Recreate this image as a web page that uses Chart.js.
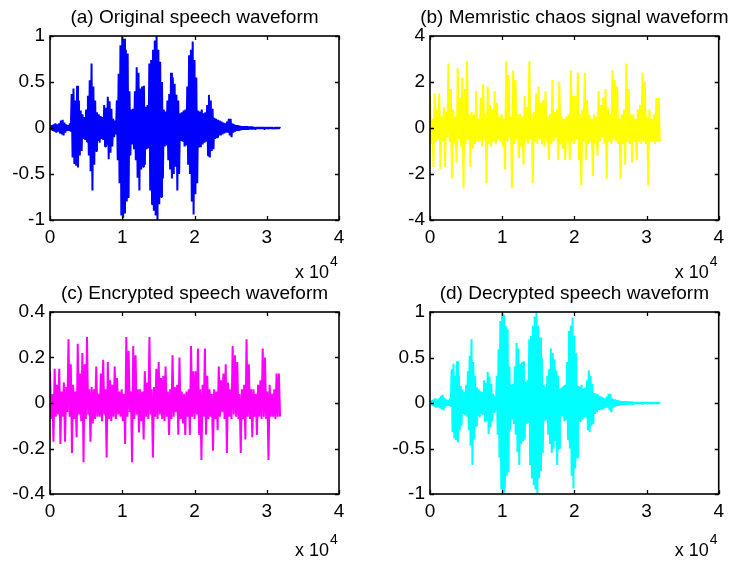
<!DOCTYPE html>
<html lang="en">
<head>
  <meta charset="UTF-8">
  <title>Speech encryption waveforms</title>
  <script src="https://cdn.jsdelivr.net/npm/chart.js"></script>
  <style>
    body {
      margin: 0;
      background: #fff;
      width: 730px;
      height: 561px;
      position: relative;
      overflow: hidden;
    }
    .panel { position: absolute; }
    .panel canvas { display: block; }
  </style>
</head>
<body>
  <div class="panel" style="left:0;top:0"><canvas id="panelA" width="365" height="280"></canvas></div>
  <div class="panel" style="left:365px;top:0"><canvas id="panelB" width="365" height="280"></canvas></div>
  <div class="panel" style="left:0;top:276px"><canvas id="panelC" width="365" height="285"></canvas></div>
  <div class="panel" style="left:365px;top:276px"><canvas id="panelD" width="365" height="285"></canvas></div>

  <script>
    // speech envelope, one upper/lower pair every 250 samples
    const speechStep = 250;
    const speechUpper = [
      0.02, 0.03, 0.04, 0.05, 0.04, 0.05, 0.08, 0.09, 0.06, 0.04,
      0.03, 0.05, 0.37, 0.43, 0.30, 0.46, 0.30, 0.19, 0.15, 0.12,
      0.20, 0.35, 0.52, 0.70, 0.45, 0.30, 0.17, 0.15, 0.13, 0.12,
      0.25, 0.22, 0.34, 0.29, 0.21, 0.10, 0.08, 0.30, 0.59, 0.90,
      0.99, 0.97, 0.85, 0.81, 0.40, 0.20, 0.21, 0.40, 0.66, 0.60,
      0.43, 0.45, 0.46, 0.23, 0.25, 0.70, 0.74, 0.85, 0.95, 1.00,
      0.85, 0.72, 0.50, 0.20, 0.18, 0.30, 0.37, 0.60, 0.55, 0.48,
      0.36, 0.30, 0.16, 0.17, 0.19, 0.20, 0.45, 0.79, 0.85, 0.94,
      0.74, 0.55, 0.19, 0.18, 0.20, 0.16, 0.17, 0.25, 0.36, 0.30,
      0.21, 0.11, 0.10, 0.09, 0.08, 0.07, 0.06, 0.05, 0.07, 0.10,
      0.10, 0.05, 0.04, 0.03, 0.03, 0.025, 0.02, 0.02, 0.02, 0.02,
      0.015, 0.015, 0.015, 0.01, 0.01, 0.01, 0.01, 0.01, 0.01, 0.01,
      0.01, 0.005, 0.005, 0.005, 0.005, 0.005, 0.005, 0.005
    ];
    const speechLower = [
      -0.02, -0.03, -0.04, -0.05, -0.04, -0.06, -0.07, -0.08, -0.05, -0.03,
      -0.03, -0.04, -0.32, -0.39, -0.41, -0.43, -0.30, -0.25, -0.12, -0.13,
      -0.15, -0.30, -0.47, -0.68, -0.40, -0.25, -0.14, -0.16, -0.12, -0.13,
      -0.20, -0.19, -0.34, -0.27, -0.20, -0.10, -0.07, -0.35, -0.60, -0.95,
      -0.98, -0.93, -0.80, -0.76, -0.30, -0.18, -0.23, -0.35, -0.54, -0.68,
      -0.45, -0.42, -0.40, -0.23, -0.22, -0.68, -0.83, -0.90, -0.95, -1.00,
      -0.83, -0.75, -0.55, -0.20, -0.19, -0.35, -0.45, -0.55, -0.50, -0.42,
      -0.68, -0.50, -0.14, -0.15, -0.20, -0.19, -0.40, -0.50, -0.80, -0.94,
      -0.72, -0.60, -0.20, -0.21, -0.18, -0.16, -0.15, -0.30, -0.32, -0.25,
      -0.23, -0.12, -0.10, -0.08, -0.08, -0.07, -0.06, -0.05, -0.05, -0.08,
      -0.10, -0.05, -0.04, -0.03, -0.03, -0.025, -0.02, -0.02, -0.02, -0.02,
      -0.015, -0.015, -0.015, -0.01, -0.01, -0.01, -0.01, -0.01, -0.01, -0.01,
      -0.01, -0.005, -0.005, -0.005, -0.005, -0.005, -0.005, -0.005
    ];

    // memristive chaos sequence, one value every 160 samples
    const chaosStep = 160;
    const chaosValues = [
      1.4, -0.7, 0.4, -1.7, 1.5, -0.6, 0.8, -0.5, 1.5, -1.8, 0.5, -0.6, 0.9, -1.7, 0.7, -0.4, 2.8, -0.6, 1.7, -2.2,
      0.8, -0.7, 0.5, -1.5, 2.6, -0.5, 1.3, -0.8, 2.2, -2.6, 1.7, -0.7, 2.9, -0.5, 0.6, -1.7, 0.7, -0.9, 0.6, -0.7,
      1.6, -0.6, 0.4, -0.6, 1.3, -0.8, 1.9, -0.5, 0.6, -2.4, 1.8, -0.7, 1.0, -0.8, 0.8, -0.6, 1.6, -0.7, 1.1, -0.5,
      0.5, -0.6, 0.6, -0.8, 0.4, -1.8, 2.9, -0.6, 2.3, -0.4, 0.5, -2.6, 2.5, -0.7, 2.1, -0.5, 0.6, -1.3, 0.6, -0.8,
      0.5, -1.6, 1.4, -0.6, 0.9, -0.7, 2.9, -0.5, 0.6, -2.4, 0.7, -0.6, 1.5, -0.7, 1.8, -0.5, 1.1, -0.7, 1.2, -0.8,
      1.6, -0.6, 0.5, -1.4, 0.6, -0.7, 2.1, -0.6,
      0.7, -0.4, 0.8, -1.4, 2.0, -0.7, 0.5, -0.9, 0.4, -1.4, 0.5, -0.6, 0.6, -1.4, 2.5, -0.6, 1.4, -0.7, 1.4, -0.5,
      2.4, -1.4, 0.6, -2.5, 0.8, -0.6, 2.4, -1.4, 1.2, -0.7, 0.6, -0.6, 0.4, -2.1, 0.6, -0.7, 0.5, -1.2, 1.6, -0.6,
      1.0, -0.4, 1.3, -0.7, 1.7, -2.2, 0.9, -0.6, 0.6, -0.7, 2.5, -0.5, 2.1, -0.6, 1.8, -0.7, 0.4, -2.2, 0.6, -0.7,
      0.8, -1.6, 2.8, -0.6, 1.7, -0.7, 0.6, -1.5, 0.6, -0.6, 0.4, -1.4, 0.8, -0.6, 1.0, -0.7, 2.4, -0.6, 2.0, -0.7,
      0.5, -2.5, 0.8, -0.6, 0.4, -0.6, 0.6, -0.7, 1.3, -0.6, 1.3, -0.6
    ];

    // encrypted speech, same sample grid as the chaos sequence
    const encryptedValues = [
      0.14, -0.07, 0.04, -0.17, 0.15, -0.06, 0.08, -0.05, 0.15, -0.18, 0.05, -0.06, 0.09, -0.17, 0.07, -0.04, 0.28, -0.06, 0.17, -0.22,
      0.08, -0.07, 0.05, -0.15, 0.26, -0.05, 0.13, -0.08, 0.22, -0.26, 0.17, -0.07, 0.29, -0.05, 0.06, -0.17, 0.07, -0.09, 0.06, -0.07,
      0.16, -0.06, 0.04, -0.06, 0.13, -0.08, 0.19, -0.05, 0.06, -0.24, 0.18, -0.07, 0.10, -0.08, 0.08, -0.06, 0.16, -0.07, 0.11, -0.05,
      0.05, -0.06, 0.06, -0.08, 0.04, -0.18, 0.29, -0.06, 0.23, -0.04, 0.05, -0.26, 0.25, -0.07, 0.21, -0.05, 0.06, -0.13, 0.06, -0.08,
      0.05, -0.16, 0.14, -0.06, 0.09, -0.07, 0.29, -0.05, 0.06, -0.24, 0.07, -0.06, 0.15, -0.07, 0.18, -0.05, 0.11, -0.07, 0.12, -0.08,
      0.16, -0.06, 0.05, -0.14, 0.06, -0.07, 0.21, -0.06,
      0.07, -0.04, 0.08, -0.14, 0.20, -0.07, 0.05, -0.09, 0.04, -0.14, 0.05, -0.06, 0.06, -0.14, 0.25, -0.06, 0.14, -0.07, 0.14, -0.05,
      0.24, -0.14, 0.06, -0.25, 0.08, -0.06, 0.24, -0.14, 0.12, -0.07, 0.06, -0.06, 0.04, -0.21, 0.06, -0.07, 0.05, -0.12, 0.16, -0.06,
      0.10, -0.04, 0.13, -0.07, 0.17, -0.22, 0.09, -0.06, 0.06, -0.07, 0.25, -0.05, 0.21, -0.06, 0.18, -0.07, 0.04, -0.22, 0.06, -0.07,
      0.08, -0.16, 0.28, -0.06, 0.17, -0.07, 0.06, -0.15, 0.06, -0.06, 0.04, -0.14, 0.08, -0.06, 0.10, -0.07, 0.24, -0.06, 0.20, -0.07,
      0.05, -0.25, 0.08, -0.06, 0.04, -0.06, 0.06, -0.07, 0.13, -0.06, 0.13, -0.06
    ];

    // axes
    const xTicks = [0, 10000, 20000, 30000, 40000];
    const xTickLabels = ['0', '1', '2', '3', '4'];
    const xExponent = '4';
    const yTicksSpeech = [-1, -0.5, 0, 0.5, 1];
    const yLabelsSpeech = ['-1', '-0.5', '0', '0.5', '1'];
    const yTicksChaos = [-4, -2, 0, 2, 4];
    const yLabelsChaos = ['-4', '-2', '0', '2', '4'];
    const yTicksEnc = [-0.4, -0.2, 0, 0.2, 0.4];
    const yLabelsEnc = ['-0.4', '-0.2', '0', '0.2', '0.4'];

    const FONT = "'Liberation Sans', Arial, Helvetica, sans-serif";

    // zigzag between upper and lower envelope so the band fills solid
    function envelopePoints(upper, lower, step) {
      const pts = [];
      for (let i = 0; i < upper.length; i++) {
        pts.push({ x: i * step, y: upper[i] });
        pts.push({ x: i * step + step / 2, y: lower[i] });
      }
      return pts;
    }

    function seriesPoints(values, step) {
      return values.map((v, i) => ({ x: i * step, y: v }));
    }

    // boxed axes with inward ticks, a title centred over the axes
    // (long titles run off the canvas instead of being squeezed)
    // and the "x 10^4" multiplier
    const boxAxes = {
      id: 'boxAxes',
      afterDraw(chart, args, opts) {
        const { ctx, chartArea: a, scales: { x, y } } = chart;
        const len = 4;
        ctx.save();
        ctx.strokeStyle = '#000';
        ctx.lineWidth = 1.3;
        ctx.beginPath();
        x.ticks.forEach(t => {
          const px = Math.round(x.getPixelForValue(t.value)) + 0.5;
          ctx.moveTo(px, a.bottom); ctx.lineTo(px, a.bottom - len);
          ctx.moveTo(px, a.top); ctx.lineTo(px, a.top + len);
        });
        y.ticks.forEach(t => {
          const py = Math.round(y.getPixelForValue(t.value)) + 0.5;
          ctx.moveTo(a.left, py); ctx.lineTo(a.left + len, py);
          ctx.moveTo(a.right, py); ctx.lineTo(a.right - len, py);
        });
        ctx.stroke();
        ctx.lineWidth = 1.6;
        ctx.strokeRect(a.left, a.top, a.right - a.left, a.bottom - a.top);

        ctx.fillStyle = '#000';
        ctx.textBaseline = 'middle';
        ctx.textAlign = 'center';
        ctx.font = opts.titleSize + 'px ' + FONT;
        ctx.fillText(opts.title, (a.left + a.right) / 2, a.top - 18);

        ctx.textAlign = 'right';
        ctx.font = '18px ' + FONT;
        ctx.fillText('x 10', a.right - 10, a.bottom + opts.expOffset);
        ctx.textAlign = 'left';
        ctx.font = '14px ' + FONT;
        ctx.fillText(xExponent, a.right - 9, a.bottom + opts.expOffset - 11);
        ctx.restore();
      }
    };

    function makePanel(id, cfg) {
      const yTicks = cfg.yTicks;
      return new Chart(document.getElementById(id), {
        type: 'line',
        data: {
          datasets: [{
            data: cfg.points,
            borderColor: cfg.color,
            borderWidth: cfg.lineWidth,
            borderJoinStyle: 'bevel',
            pointRadius: 0,
            fill: false,
            tension: 0
          }]
        },
        options: {
          responsive: false,
          devicePixelRatio: 1,
          animation: false,
          parsing: false,
          normalized: true,
          events: [],
          layout: { padding: { left: 0, right: cfg.padRight, top: 36, bottom: 0 } },
          plugins: {
            legend: { display: false },
            tooltip: { enabled: false },
            title: { display: false },
            boxAxes: { title: cfg.title, titleSize: 19, expOffset: cfg.expOffset }
          },
          scales: {
            x: {
              type: 'linear',
              min: xTicks[0],
              max: xTicks[xTicks.length - 1],
              grid: { display: false, drawTicks: false },
              border: { display: false },
              afterBuildTicks: s => { s.ticks = xTicks.map(v => ({ value: v })); },
              afterFit: s => { s.height = cfg.xHeight; },
              ticks: {
                color: '#000',
                font: { family: FONT, size: 19 },
                padding: 6,
                maxRotation: 0,
                callback: (v, i) => xTickLabels[i]
              }
            },
            y: {
              type: 'linear',
              min: yTicks[0],
              max: yTicks[yTicks.length - 1],
              grid: { display: false, drawTicks: false },
              border: { display: false },
              afterBuildTicks: s => { s.ticks = yTicks.map(v => ({ value: v })); },
              afterFit: s => { s.width = cfg.yWidth; },
              ticks: {
                color: '#000',
                font: { family: FONT, size: 19 },
                padding: 5,
                callback: (v, i) => cfg.yLabels[i]
              }
            }
          }
        },
        plugins: [boxAxes]
      });
    }

    makePanel('panelA', {
      title: '(a) Original speech waveform',
      points: envelopePoints(speechUpper, speechLower, speechStep),
      color: '#0000ff', lineWidth: 2,
      yTicks: yTicksSpeech, yLabels: yLabelsSpeech,
      yWidth: 50, xHeight: 60, padRight: 26, expOffset: 53
    });
    makePanel('panelB', {
      title: '(b) Memristic chaos signal waveform',
      points: seriesPoints(chaosValues, chaosStep),
      color: '#ffff00', lineWidth: 2,
      yTicks: yTicksChaos, yLabels: yLabelsChaos,
      yWidth: 65, xHeight: 60, padRight: 11, expOffset: 53
    });
    makePanel('panelC', {
      title: '(c) Encrypted speech waveform',
      points: seriesPoints(encryptedValues, chaosStep),
      color: '#ff00ff', lineWidth: 2,
      yTicks: yTicksEnc, yLabels: yLabelsEnc,
      yWidth: 50, xHeight: 67, padRight: 26, expOffset: 57
    });
    makePanel('panelD', {
      title: '(d) Decrypted speech waveform',
      points: envelopePoints(speechUpper, speechLower, speechStep),
      color: '#00ffff', lineWidth: 2,
      yTicks: yTicksSpeech, yLabels: yLabelsSpeech,
      yWidth: 65, xHeight: 67, padRight: 11, expOffset: 57
    });
  </script>
</body>
</html>
